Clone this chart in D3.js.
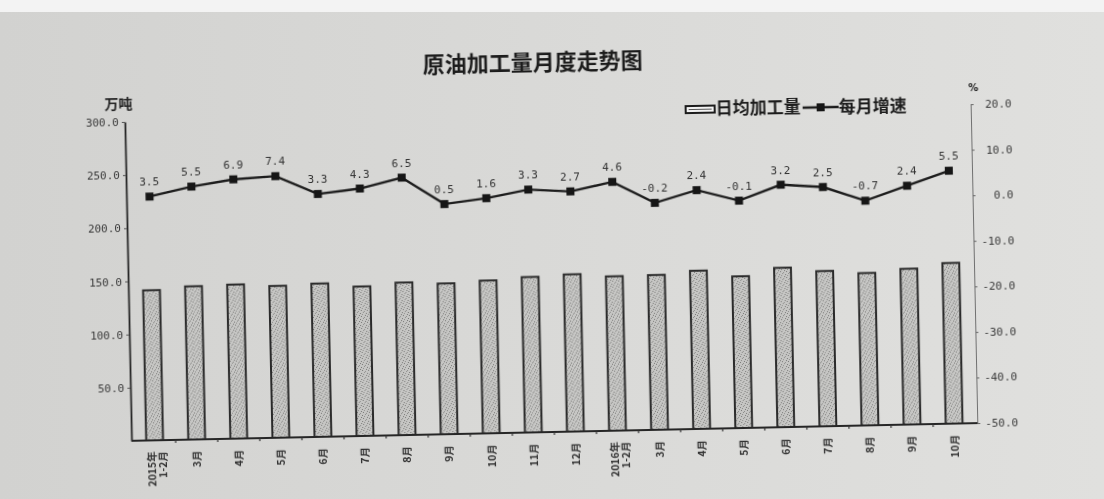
<!DOCTYPE html>
<html>
<head>
<meta charset="utf-8">
<script src="https://cdn.jsdelivr.net/npm/d3@7"></script>
<style>
body { margin: 0; background: #d8d8d6; }
</style>
</head>
<body>
<script>
// category labels (two-line labels split on \n)
var months = ["2015年\n1-2月", "3月", "4月", "5月", "6月", "7月", "8月", "9月", "10月",
              "11月", "12月", "2016年\n1-2月", "3月", "4月", "5月", "6月", "7月", "8月",
              "9月", "10月"];

// 日均加工量 (万吨)
var daily = [141.2, 144.1, 144.9, 142.8, 144.2, 140.6, 143.5, 141.8, 143.7, 146.2,
             147.9, 145.2, 145.6, 148.8, 142.7, 149.9, 146.0, 143.3, 146.5, 151.1];

// 每月增速 (%)
var growth = [3.5, 5.5, 6.9, 7.4, 3.3, 4.3, 6.5, 0.5, 1.6, 3.3,
              2.7, 4.6, -0.2, 2.4, -0.1, 3.2, 2.5, -0.7, 2.4, 5.5];

var leftTicks = [50, 100, 150, 200, 250, 300];
var rightTicks = [-50, -40, -30, -20, -10, 0, 10, 20];

var W = 1104, H = 499;
// plot box (window.top is read-only, so own names)
var pLeft = 128, pRight = 974, pTop = 113, pBottom = 432;

var svg = d3.select("body").append("svg")
    .attr("width", W)
    .attr("height", H);

var defs = svg.append("defs");

// paper tone of the photo
var grad = defs.append("linearGradient").attr("id", "paper")
    .attr("x1", 0).attr("y1", 0).attr("x2", 1).attr("y2", 0);
grad.append("stop").attr("offset", "0%").attr("stop-color", "#d2d2d0");
grad.append("stop").attr("offset", "55%").attr("stop-color", "#dadad8");
grad.append("stop").attr("offset", "100%").attr("stop-color", "#e0e0de");

// stippled bar fill
var pat = defs.append("pattern").attr("id", "dots")
    .attr("width", 6).attr("height", 6)
    .attr("patternUnits", "userSpaceOnUse");
pat.append("rect").attr("width", 6).attr("height", 6).attr("fill", "#c6c6c4");
[[0, 0], [3, 1], [5, 3], [1, 4], [4, 5], [2, 2]].forEach(function(p, k) {
    pat.append("rect")
        .attr("x", p[0]).attr("y", p[1])
        .attr("width", 1).attr("height", 1)
        .attr("fill", k % 2 ? "#8e8e8c" : "#7a7a78");
});

defs.append("filter").attr("id", "soft")
    .append("feGaussianBlur").attr("stdDeviation", 0.45);

svg.append("rect").attr("width", W).attr("height", H).attr("fill", "url(#paper)");
svg.append("rect").attr("width", W).attr("height", 12).attr("fill", "#f3f3f3");

// the photo is slightly tilted, left side lower
var g = svg.append("g")
    .attr("transform", "rotate(-1.2,551,270)")
    .attr("filter", "url(#soft)");

var x = d3.scaleBand()
    .domain(d3.range(months.length))
    .range([pLeft, pRight])
    .paddingInner(0.6)
    .paddingOuter(0.35);

var yL = d3.scaleLinear().domain([0, 300]).range([pBottom, pTop]);
var yR = d3.scaleLinear().domain([-50, 20]).range([pBottom, pTop]);

var cx = function(i) { return x(i) + x.bandwidth() / 2; };

// title
g.append("text")
    .attr("x", 537).attr("y", 70)
    .attr("text-anchor", "middle")
    .style("font-family", "'Noto Sans CJK SC'")
    .style("font-size", "22px")
    .style("font-weight", "bold")
    .style("fill", "#1e1e1e")
    .text("原油加工量月度走势图");

// unit labels
g.append("text")
    .attr("x", 122).attr("y", 100)
    .attr("text-anchor", "middle")
    .style("font-family", "'Noto Sans CJK SC'")
    .style("font-size", "14px")
    .style("font-weight", "bold")
    .style("fill", "#222")
    .text("万吨");

g.append("text")
    .attr("x", 977).attr("y", 100)
    .attr("text-anchor", "middle")
    .style("font-family", "'DejaVu Sans'")
    .style("font-size", "10px")
    .style("font-weight", "bold")
    .style("fill", "#222")
    .text("%");

// bars
g.selectAll("rect.bar")
    .data(daily)
    .enter()
    .append("rect")
    .attr("class", "bar")
    .attr("x", function(d, i) { return x(i); })
    .attr("y", function(d) { return yL(d); })
    .attr("width", x.bandwidth())
    .attr("height", function(d) { return pBottom - yL(d); })
    .attr("fill", "url(#dots)")
    .attr("stroke", "#2b2b2b")
    .attr("stroke-width", 2);

// left axis
var axL = g.append("g")
    .attr("transform", "translate(" + pLeft + ",0)")
    .call(d3.axisLeft(yL)
        .tickValues(leftTicks)
        .tickFormat(function(d) { return d.toFixed(1); })
        .tickSize(3)
        .tickSizeOuter(0)
        .tickPadding(3));
axL.select(".domain").attr("stroke", "#262626").attr("stroke-width", 1.8);
axL.selectAll(".tick line").attr("stroke", "#555");
axL.selectAll("text")
    .style("font-family", "'DejaVu Sans Mono'")
    .style("font-size", "11px")
    .style("fill", "#3a3a3a");

// right axis
var axR = g.append("g")
    .attr("transform", "translate(" + pRight + ",0)")
    .call(d3.axisRight(yR)
        .tickValues(rightTicks)
        .tickFormat(function(d) { return d.toFixed(1); })
        .tickSize(3)
        .tickSizeOuter(0));
axR.select(".domain").attr("stroke", "#707070").attr("stroke-width", 1);
axR.selectAll(".tick line").attr("stroke", "#666");
axR.selectAll("text")
    .attr("x", 41)
    .attr("text-anchor", "end")
    .style("font-family", "'DejaVu Sans Mono'")
    .style("font-size", "11px")
    .style("fill", "#3a3a3a");

// baseline with small marks between categories
g.append("line")
    .attr("x1", pLeft).attr("x2", pRight)
    .attr("y1", pBottom).attr("y2", pBottom)
    .attr("stroke", "#262626")
    .attr("stroke-width", 2);

g.selectAll("line.sep")
    .data(d3.range(1, months.length))
    .enter()
    .append("line")
    .attr("class", "sep")
    .attr("x1", function(i) { return x(i) - x.step() * x.paddingInner() / 2; })
    .attr("x2", function(i) { return x(i) - x.step() * x.paddingInner() / 2; })
    .attr("y1", pBottom)
    .attr("y2", pBottom + 3)
    .attr("stroke", "#333")
    .attr("stroke-width", 1.2);

// category labels, vertical
var xl = g.selectAll("text.cat")
    .data(months)
    .enter()
    .append("text")
    .attr("class", "cat")
    .attr("transform", function(d, i) {
        return "translate(" + cx(i) + "," + (pBottom + 11) + ") rotate(-90)";
    })
    .attr("text-anchor", "end")
    .style("font-family", "'Noto Sans CJK SC'")
    .style("font-size", "10.5px")
    .style("font-weight", "bold")
    .style("fill", "#333");

xl.each(function(d) {
    var lines = d.split("\n");
    var t = d3.select(this);
    lines.forEach(function(s, k) {
        t.append("tspan")
            .attr("x", 0)
            .attr("dy", k == 0 ? (lines.length == 1 ? "0.35em" : "0.1em") : "1.05em")
            .text(s);
    });
});

// growth line
var line = d3.line()
    .x(function(d, i) { return cx(i); })
    .y(function(d) { return yR(d); });

g.append("path")
    .datum(growth)
    .attr("d", line)
    .attr("fill", "none")
    .attr("stroke", "#1c1c1c")
    .attr("stroke-width", 2.4);

g.selectAll("rect.mark")
    .data(growth)
    .enter()
    .append("rect")
    .attr("class", "mark")
    .attr("x", function(d, i) { return cx(i) - 4; })
    .attr("y", function(d) { return yR(d) - 4; })
    .attr("width", 8)
    .attr("height", 8)
    .attr("fill", "#161616");

g.selectAll("text.val")
    .data(growth)
    .enter()
    .append("text")
    .attr("class", "val")
    .attr("x", function(d, i) { return cx(i); })
    .attr("y", function(d) { return yR(d) - 11; })
    .attr("text-anchor", "middle")
    .style("font-family", "'DejaVu Sans Mono'")
    .style("font-size", "11px")
    .style("fill", "#333")
    .text(function(d) { return d.toFixed(1); });

// legend
var lg = g.append("g");
lg.append("rect")
    .attr("x", 689).attr("y", 109)
    .attr("width", 29).attr("height", 7)
    .attr("fill", "#f2f2f2")
    .attr("stroke", "#1e1e1e")
    .attr("stroke-width", 2);
lg.append("line")
    .attr("x1", 692).attr("x2", 715)
    .attr("y1", 112.5).attr("y2", 112.5)
    .attr("stroke", "#555").attr("stroke-width", 1);
lg.append("text")
    .attr("x", 719).attr("y", 118)
    .style("font-family", "'Noto Sans CJK SC'")
    .style("font-size", "17px")
    .style("font-weight", "bold")
    .style("fill", "#1a1a1a")
    .text("日均加工量");
lg.append("line")
    .attr("x1", 806).attr("x2", 842)
    .attr("y1", 113).attr("y2", 113)
    .attr("stroke", "#1c1c1c").attr("stroke-width", 2.4);
lg.append("rect")
    .attr("x", 820).attr("y", 109)
    .attr("width", 8).attr("height", 8)
    .attr("fill", "#161616");
lg.append("text")
    .attr("x", 842).attr("y", 119)
    .style("font-family", "'Noto Sans CJK SC'")
    .style("font-size", "17px")
    .style("font-weight", "bold")
    .style("fill", "#1a1a1a")
    .text("每月增速");
</script>
</body>
</html>
